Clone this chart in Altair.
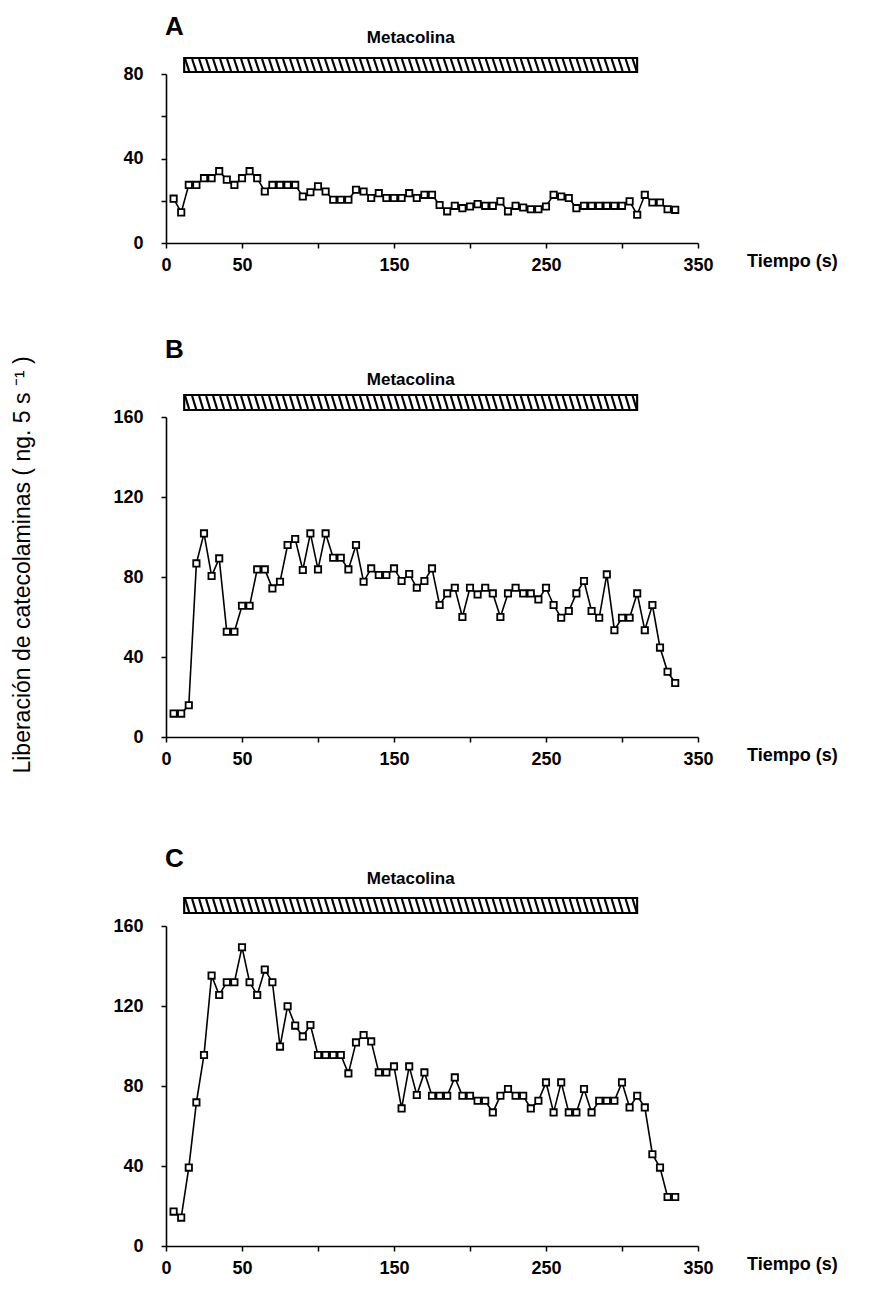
import altair as alt
import pandas as pd
import numpy as np

# ---------------- data ----------------
times = list(range(5, 340, 5))  # sampling every 5 s

vals_a = [21, 14.5, 27.5, 27.5, 30.7, 30.7, 34, 30, 27.5, 30.7,
          34, 30.7, 24.4, 27.5, 27.5, 27.5, 27.5, 22, 24, 26.8,
          24.4, 20.5, 20.5, 20.5, 25.2, 24.4, 21.3, 23.6, 21.3, 21.3,
          21.3, 23.6, 21.3, 22.8, 22.8, 18, 15, 17.6, 16.5, 17.3,
          18.4, 17.6, 17.6, 19.7, 15, 17.6, 16.8, 16, 16, 17.3,
          22.8, 22, 21.3, 16.5, 17.6, 17.6, 17.6, 17.6, 17.6, 17.6,
          19.7, 13.4, 22.8, 19.2, 19.2, 16, 15.7]

vals_b = [11.7, 11.7, 15.9, 86.8, 101.8, 80.5, 89.3, 52.6, 52.6, 65.6,
          65.6, 83.8, 83.8, 74.3, 77.6, 96, 99, 83.5, 101.8, 83.8,
          101.8, 89.6, 89.6, 83.8, 96, 77.6, 84.3, 81, 81, 84.3,
          78, 81.5, 74.6, 78, 84.3, 66, 71.8, 74.6, 60, 74.6,
          71.3, 74.6, 71.8, 60, 71.8, 74.6, 71.8, 71.8, 68.8, 74.6,
          66, 59.6, 63, 71.8, 78, 63, 59.6, 81.3, 53.4, 59.6,
          59.6, 71.8, 53.4, 66, 44.7, 32.6, 27]

vals_c = [17.2, 14.2, 39.2, 71.8, 95.5, 135.2, 125.5, 131.9, 131.9, 149.4,
          131.9, 125.5, 138.2, 131.9, 99.7, 119.9, 110.2, 104.8, 110.5, 95.5,
          95.5, 95.5, 95.5, 86.3, 101.8, 105.5, 102.3, 86.8, 86.8, 89.8,
          68.8, 89.8, 75.5, 86.8, 75.1, 75.1, 75.1, 84.3, 75.1, 75.1,
          72.6, 72.6, 66.8, 75.1, 78.5, 75.1, 75.1, 68.8, 72.6, 81.8,
          66.8, 81.8, 66.8, 66.8, 78.5, 66.8, 72.6, 72.6, 72.6, 81.8,
          69.3, 75.1, 69.3, 45.9, 39.2, 24.5, 24.5]

x_ticks = [0, 50, 100, 150, 200, 250, 300, 350]
x_hidden = [100, 200, 300]
drug_start, drug_end = 12, 310
drug_label = "Metacolina"
x_title = "Tiempo (s)"
y_title = "Liberación de catecolaminas ( ng. 5 s \u207b\u00b9 )"

FONT = "Liberation Sans"
W = 532

hatch_step = 4.6
hatch_dx = 2.6


def panel(vals, ymax, H, letter, letter_dy, label_dy, bar_top, bar_bot,
          ytitle=False, extra_top=None):
    df = pd.DataFrame({"t": times, "v": vals})
    hidden = " || ".join(f"datum.value == {h}" for h in x_hidden)
    x = alt.X("t:Q", title=None,
              scale=alt.Scale(domain=[0, 350], nice=False, zero=False),
              axis=alt.Axis(values=x_ticks, labelExpr=f"({hidden}) ? '' : datum.label",
                            grid=False, labelFlush=False, tickSize=5, labelPadding=8))
    y = alt.Y("v:Q", title=None,
              scale=alt.Scale(domain=[0, ymax], nice=False),
              axis=alt.Axis(values=list(range(0, ymax + 1, 20)),
                            labelExpr="datum.value % 40 == 0 ? datum.label : ''",
                            grid=False, tickSize=5, labelPadding=18))
    base = alt.Chart(df)
    line = base.mark_line(color="black", strokeWidth=1.6).encode(x=x, y=y)
    pts = base.mark_point(shape="square", size=40, filled=True, fill="white",
                          stroke="black", strokeWidth=1.8, opacity=1).encode(
        x="t:Q", y="v:Q")

    bar_df = pd.DataFrame({"t": [drug_start], "t2": [drug_end]})
    bar = alt.Chart(bar_df).mark_rect(fill="white", stroke="black", strokeWidth=1.8).encode(
        x="t:Q", x2="t2", y=alt.value(bar_top), y2=alt.value(bar_bot))
    hs = np.arange(drug_start + 0.6, drug_end - hatch_dx, hatch_step)
    h_df = pd.DataFrame({"t": hs, "t2": hs + hatch_dx})
    hatch = alt.Chart(h_df).mark_rule(color="black", strokeWidth=2.2).encode(
        x="t:Q", x2="t2", y=alt.value(bar_top + 1), y2=alt.value(bar_bot - 1))
    bar_outline = alt.Chart(bar_df).mark_rect(fill=None, stroke="black", strokeWidth=1.8).encode(
        x="t:Q", x2="t2", y=alt.value(bar_top), y2=alt.value(bar_bot))

    lab_df = pd.DataFrame({"t": [(drug_start + drug_end) / 2], "txt": [drug_label]})
    lab = alt.Chart(lab_df).mark_text(font=FONT, fontSize=17, fontWeight="bold",
                                      baseline="middle", color="black").encode(
        x="t:Q", y=alt.value(label_dy), text="txt:N")

    one = pd.DataFrame({"a": [0]})
    let = alt.Chart(one).mark_text(font=FONT, fontSize=26, fontWeight="bold", align="left",
                                   baseline="middle", color="black").encode(
        x=alt.value(-1), y=alt.value(letter_dy), text=alt.value(letter))
    tt = alt.Chart(one).mark_text(font=FONT, fontSize=18, fontWeight="bold", align="left",
                                  baseline="middle", color="black").encode(
        x=alt.value(W + 49), y=alt.value(H + 19), text=alt.value(x_title))
    layers = [bar, hatch, bar_outline, lab, let, tt, line, pts]
    if ytitle:
        yt = alt.Chart(one).mark_text(font=FONT, fontSize=23, angle=270, align="center",
                                      baseline="middle", color="black").encode(
            x=alt.value(-143), y=alt.value(148), text=alt.value(y_title))
        layers.append(yt)
    if extra_top is not None:
        ghost = alt.Chart(one).mark_text(font=FONT, fontSize=10, baseline="top",
                                         opacity=0).encode(
            x=alt.value(0), y=alt.value(extra_top), text=alt.value(letter))
        layers.append(ghost)
    return alt.layer(*layers).properties(width=W, height=H)


pa = panel(vals_a, 80, 169, "A", -47, -36, -16, -2)
pb = panel(vals_b, 160, 320, "B", -67, -37, -22, -7, ytitle=True)
pc = panel(vals_c, 160, 320, "C", -67, -47, -28, -13, extra_top=-89)

chart = alt.vconcat(pa, pb, pc, spacing=63).properties(
    padding={"left": 4, "top": 6, "right": 5, "bottom": 5}
).configure_view(stroke=None).configure_axis(
    domainColor="black", domainWidth=1.6, tickColor="black", tickWidth=1.5,
    labelFont=FONT, labelFontSize=18, labelFontWeight="bold", labelColor="black"
)

chart.save("out.html", embed_options={"renderer": "svg", "actions": False})
